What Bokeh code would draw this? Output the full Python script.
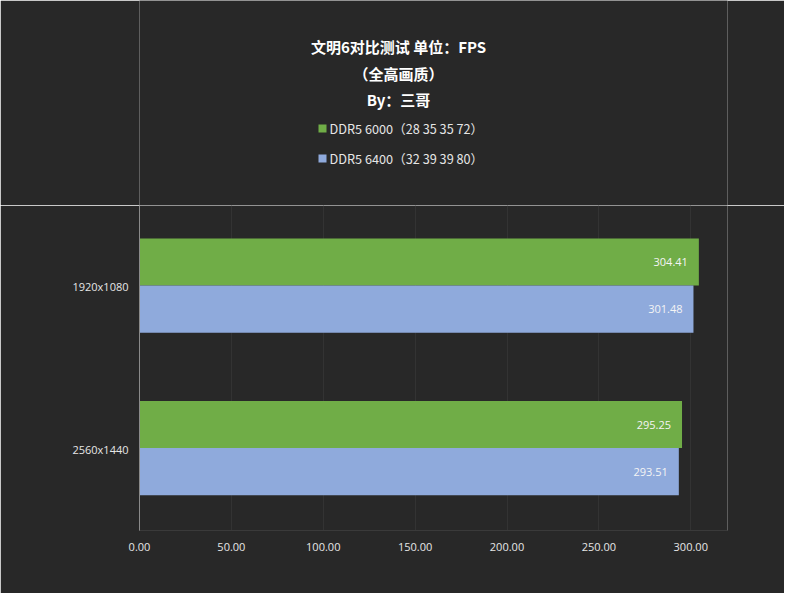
from bokeh.plotting import figure
from bokeh.layouts import column
from bokeh.models import FactorRange, FixedTicker, NumeralTickFormatter, ColumnDataSource, Range1d
from bokeh.transform import dodge
from bokeh.core.properties import value
from bokeh.embed import file_html
from bokeh.resources import INLINE

resolutions = ["1920x1080", "2560x1440"]
ddr5_6000 = [304.41, 295.25]
ddr5_6400 = [301.48, 293.51]
series_names = ["DDR5 6000（28 35 35 72）", "DDR5 6400（32 39 39 80）"]
x_ticks = [0, 50, 100, 150, 200, 250, 300]
title_lines = ["文明6对比测试 单位：FPS", "（全高画质）", "By：三哥"]

BG = "#282828"
GREEN = "#70ad47"
BLUE = "#8faadc"
TXT = "#e6e6e6"
COLORS = [GREEN, BLUE]

W, H = 784, 593
HEAD = 205               # header height (title + legend)
FL, FR, FB = 139, 727, 530   # frame left, frame right, frame bottom (page px)

# ---------- header: title and legend (frame aligned with the chart frame) ----------
h = figure(width=W, height=HEAD, output_backend="svg", toolbar_location=None,
           x_range=Range1d(FL, FR), y_range=Range1d(HEAD, 0),
           min_border_left=FL, min_border_right=W - FR, min_border_top=0, min_border_bottom=0,
           x_axis_type=None, y_axis_type=None)
h.background_fill_color = BG
h.border_fill_color = BG
h.outline_line_color = None
h.outline_line_alpha = 0
h.outline_line_width = 0
h.grid.visible = False
h.text(x=[398] * 3, y=[46, 73, 99], text=title_lines, text_align="center", text_baseline="middle",
       text_color="#ffffff", text_font=value("Noto Sans CJK SC"), text_font_style="bold",
       text_font_size="15px")
h.scatter(x=[322, 322], y=[128, 158], marker="square", size=8, fill_color=COLORS, line_color=None)
h.text(x=[329, 329], y=[128, 158], text=series_names, text_align="left", text_baseline="middle",
       text_color=TXT, text_font=value("Noto Sans CJK SC"), text_font_size="12.7px")

# ---------- main chart ----------
p = figure(width=W, height=H - HEAD, output_backend="svg", toolbar_location=None,
           y_range=FactorRange(*reversed(resolutions)), x_range=(0, 320),
           min_border_left=FL, min_border_right=W - FR, min_border_top=0, min_border_bottom=H - FB)
p.background_fill_color = BG
p.border_fill_color = BG
p.outline_line_color = None
p.outline_line_alpha = 0
p.outline_line_width = 0

src = ColumnDataSource(dict(res=resolutions, a=ddr5_6000, b=ddr5_6400,
                            la=["%.2f" % v for v in ddr5_6000], lb=["%.2f" % v for v in ddr5_6400]))

GA, GB = 0.152, -0.138
p.hbar(y=dodge("res", GA, range=p.y_range), right="a", left=0, height=0.29,
       source=src, fill_color=GREEN, line_color=None)
p.hbar(y=dodge("res", GB, range=p.y_range), right="b", left=0, height=0.29,
       source=src, fill_color=BLUE, line_color=None)
p.text(x="a", y=dodge("res", GA, range=p.y_range), text="la", source=src,
       text_align="right", text_baseline="middle", x_offset=-11, text_color="#f4f4f4",
       text_font_size="11px", text_font=value("Open Sans"))
p.text(x="b", y=dodge("res", GB, range=p.y_range), text="lb", source=src,
       text_align="right", text_baseline="middle", x_offset=-11, text_color="#f4f4f4",
       text_font_size="11px", text_font=value("Open Sans"))

p.xaxis.ticker = FixedTicker(ticks=x_ticks)
p.xaxis.formatter = NumeralTickFormatter(format="0.00")
for ax in (p.xaxis[0], p.yaxis[0]):
    ax.major_label_text_color = TXT
    ax.major_label_text_font = "Open Sans"
    ax.major_label_text_font_size = "11px"
    ax.major_tick_line_color = None
    ax.minor_tick_line_color = None
p.xaxis.axis_line_color = "#3a3a3a"
p.yaxis.axis_line_color = "#8a8a8a"
p.xaxis.major_label_standoff = 6
p.yaxis.major_label_standoff = 5
p.ygrid.grid_line_color = None
p.xgrid.grid_line_color = "#333333"

layout = column(h, p, spacing=0)
open("out.html", "w").write(file_html(layout, INLINE))
